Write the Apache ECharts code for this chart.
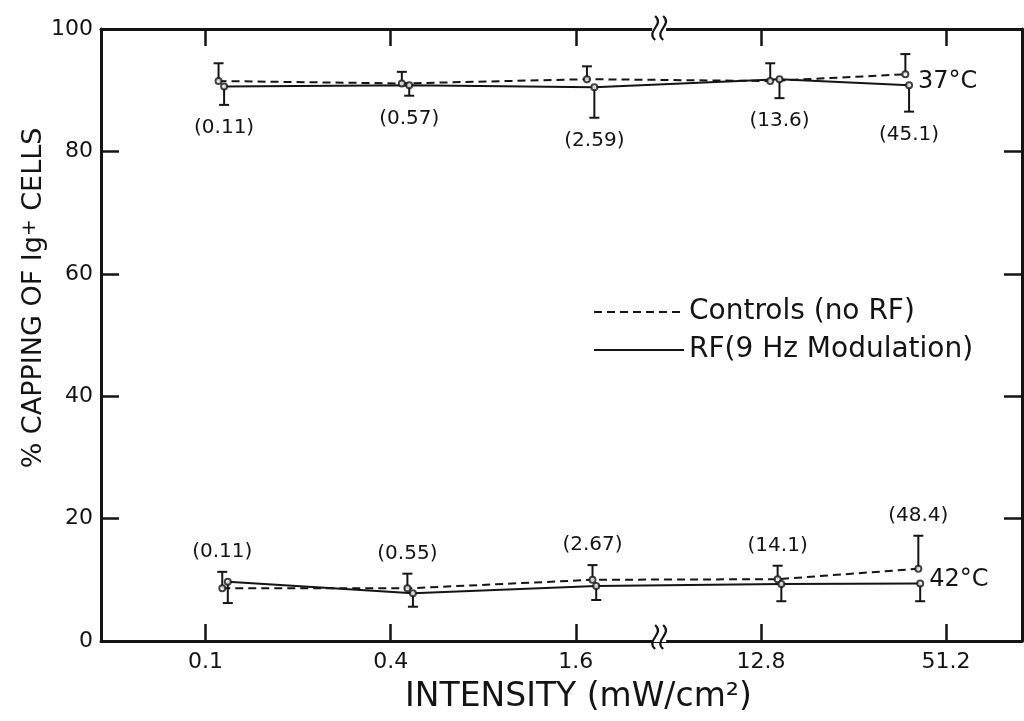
<!DOCTYPE html>
<html>
<head>
<meta charset="utf-8">
<script src="https://cdn.jsdelivr.net/npm/echarts@6/dist/echarts.min.js"></script>
<style>
  html, body { margin: 0; padding: 0; background: #fff; }
  #chart { width: 1024px; height: 721px; }
</style>
</head>
<body>
<div id="chart"></div>
<script>
// Intensity axis: tick slots and their labels (mW/cm²); the scale is broken between 1.6 and 12.8
const tickPos = [0, 1, 2, 3, 4];
const tickLabels = ['0.1', '0.4', '1.6', '12.8', '51.2'];
const breakPos = 2.45;

// 37 °C — controls (no RF): x slot, mean % capping, upper error bar
const ctrl37X  = [0.07, 1.06, 2.06, 3.05, 3.78];
const ctrl37   = [91.5, 91.1, 91.8, 91.5, 92.6];
const ctrl37Hi = [94.4, 93.0, 93.9, 94.4, 95.9];
// 37 °C — RF (9 Hz modulation): x slot, mean, lower error bar
const rf37X    = [0.10, 1.10, 2.10, 3.10, 3.80];
const rf37     = [90.6, 90.8, 90.5, 91.8, 90.8];
const rf37Lo   = [87.6, 89.1, 85.5, 88.7, 86.5];
// measured intensities at 37 °C
const intens37 = ['(0.11)', '(0.57)', '(2.59)', '(13.6)', '(45.1)'];

// 42 °C — controls (no RF)
const ctrl42X  = [0.09, 1.09, 2.09, 3.09, 3.85];
const ctrl42   = [8.6, 8.6, 10.0, 10.1, 11.8];
const ctrl42Hi = [11.3, 11.0, 12.4, 12.3, 17.2];
// 42 °C — RF (9 Hz modulation)
const rf42X    = [0.12, 1.12, 2.11, 3.11, 3.86];
const rf42     = [9.7, 7.8, 9.0, 9.3, 9.4];
const rf42Lo   = [6.2, 5.6, 6.7, 6.5, 6.5];
// measured intensities at 42 °C
const intens42 = ['(0.11)', '(0.55)', '(2.67)', '(14.1)', '(48.4)'];

const CTRL_NAME = 'Controls (no RF)';
const RF_NAME = 'RF(9 Hz Modulation)';

const INK = '#141414';
const FONT = 'DejaVu Sans';

function pts(xs, ys) { return xs.map((x, i) => [x, ys[i]]); }
function bars(xs, ys, ends) { return xs.map((x, i) => [x, ys[i], ends[i]]); }

// error bar from the mean to its end, with a cap; optional intensity label past the cap
function errRenderer(labels) {
  return function (params, api) {
    const p = api.coord([api.value(0), api.value(1)]);
    const e = api.coord([api.value(0), api.value(2)]);
    const up = e[1] < p[1];
    const children = [
      { type: 'line', shape: { x1: p[0], y1: p[1], x2: e[0], y2: e[1] }, style: { stroke: INK, lineWidth: 2 } },
      { type: 'line', shape: { x1: e[0] - 5, y1: e[1], x2: e[0] + 5, y2: e[1] }, style: { stroke: INK, lineWidth: 2 } }
    ];
    if (labels) {
      children.push({
        type: 'text', x: e[0], y: e[1] + (up ? -20 : 23),
        style: { text: labels[params.dataIndex], fill: INK, font: '20px "' + FONT + '"', align: 'center', verticalAlign: 'middle' }
      });
    }
    return { type: 'group', children };
  };
}

// axis-break squiggles on the top and bottom frame lines
function breakRenderer(params, api) {
  const top = api.coord([api.value(0), api.value(2)]);
  const bot = api.coord([api.value(0), api.value(1)]);
  const group = [];
  [[top[0], top[1] - 1], [bot[0], bot[1] - 4]].forEach(([x, y]) => {
    group.push({ type: 'rect', shape: { x: x - 7, y: y - 3, width: 14, height: 8 }, style: { fill: '#fff' } });
    [-4, 4].forEach(dx => {
      group.push({
        type: 'bezierCurve',
        shape: { x1: x + dx, y1: y - 12, x2: x + dx, y2: y + 12, cpx1: x + dx + 10, cpy1: y - 3, cpx2: x + dx - 10, cpy2: y + 3 },
        style: { stroke: INK, lineWidth: 2.2, fill: null }
      });
    });
  });
  return { type: 'group', children: group };
}

function lineSeries(name, xs, ys, dashed, endText) {
  const s = {
    type: 'line', name, data: pts(xs, ys), symbol: 'none', z: 3,
    lineStyle: { color: INK, width: 2, type: dashed ? [8, 5] : 'solid' },
    itemStyle: { color: INK }
  };
  if (endText) {
    s.endLabel = {
      show: true, formatter: endText, distance: 9, offset: [0, -4],
      color: INK, fontFamily: FONT, fontSize: 24
    };
  }
  return s;
}

const xTicks = {
  show: true, inside: true, length: 17, customValues: tickPos,
  lineStyle: { color: INK, width: 2.5 }
};
const yTicks = { show: true, inside: true, length: 18, lineStyle: { color: INK, width: 2.5 } };
const frameLine = { show: true, onZero: false, lineStyle: { color: INK, width: 3 } };

const option = {
  backgroundColor: '#fff',
  animation: false,
  grid: { left: 101, right: 2, top: 29, bottom: 80 },
  legend: {
    data: [CTRL_NAME, RF_NAME],
    orient: 'vertical', left: 593, top: 298, padding: 0,
    itemWidth: 90, itemHeight: 4, itemGap: 10,
    itemStyle: { opacity: 0 },
    textStyle: { color: INK, fontFamily: FONT, fontSize: 28 },
    selectedMode: false
  },
  xAxis: [
    {
      type: 'value', position: 'bottom', min: -0.565, max: 4.41,
      axisLine: frameLine, axisTick: xTicks, splitLine: { show: false },
      axisLabel: {
        customValues: tickPos, margin: 10, color: INK, fontFamily: FONT, fontSize: 22,
        formatter: v => tickLabels[Math.round(v)]
      },
      name: 'INTENSITY (mW/cm²)', nameLocation: 'middle', nameGap: 40,
      nameTextStyle: { color: INK, fontFamily: FONT, fontSize: 33, padding: [0, 0, 0, 34] }
    },
    {
      type: 'value', position: 'top', min: -0.565, max: 4.41,
      axisLine: frameLine, axisTick: xTicks, splitLine: { show: false },
      axisLabel: { show: false }
    }
  ],
  yAxis: [
    {
      type: 'value', position: 'left', min: 0, max: 100, interval: 20,
      axisLine: frameLine, axisTick: yTicks, splitLine: { show: false },
      axisLabel: { margin: 8, color: INK, fontFamily: FONT, fontSize: 22 },
      name: '% CAPPING OF Ig{sup|+} CELLS', nameLocation: 'middle', nameRotate: 90, nameGap: 54,
      nameMoveOverlap: false,
      nameTextStyle: {
        color: INK, fontFamily: FONT, fontSize: 27, padding: [0, 0, 0, 74],
        rich: { sup: { fontSize: 20, lineHeight: 14, verticalAlign: 'top', color: INK, fontFamily: FONT, padding: [0, 0, 12, 0] } }
      }
    },
    {
      type: 'value', position: 'right', min: 0, max: 100, interval: 20,
      axisLine: frameLine, axisTick: yTicks, splitLine: { show: false },
      axisLabel: { show: false }
    }
  ],
  series: [
    lineSeries(CTRL_NAME, ctrl37X, ctrl37, true),
    lineSeries(RF_NAME, rf37X, rf37, false, '37°C'),
    lineSeries(CTRL_NAME, ctrl42X, ctrl42, true),
    lineSeries(RF_NAME, rf42X, rf42, false, '42°C'),
    { type: 'custom', renderItem: errRenderer(null), data: bars(ctrl37X, ctrl37, ctrl37Hi), z: 4, silent: true },
    { type: 'custom', renderItem: errRenderer(intens37), data: bars(rf37X, rf37, rf37Lo), z: 4, silent: true },
    { type: 'custom', renderItem: errRenderer(intens42), data: bars(ctrl42X, ctrl42, ctrl42Hi), z: 4, silent: true },
    { type: 'custom', renderItem: errRenderer(null), data: bars(rf42X, rf42, rf42Lo), z: 4, silent: true },
    {
      type: 'scatter', symbol: 'circle', symbolSize: 6, z: 5, silent: true,
      itemStyle: { color: '#fff', borderColor: INK, borderWidth: 2 },
      data: [].concat(pts(ctrl37X, ctrl37), pts(rf37X, rf37), pts(ctrl42X, ctrl42), pts(rf42X, rf42))
    },
    {
      type: 'custom', renderItem: breakRenderer, data: [[breakPos, 0, 100]],
      z: 6, silent: true, clip: false
    }
  ]
};

const chart = echarts.init(document.getElementById('chart'), null, { renderer: 'canvas' });
chart.setOption(option);
</script>
</body>
</html>
